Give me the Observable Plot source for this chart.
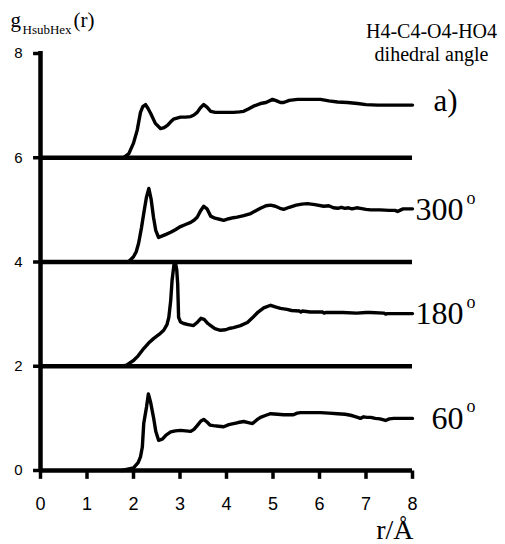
<!DOCTYPE html>
<html>
<head>
<meta charset="utf-8">
<script src="https://cdn.jsdelivr.net/npm/d3@7"></script>
<script src="https://cdn.jsdelivr.net/npm/@observablehq/plot@0.6"></script>
<style>
  html, body { margin: 0; padding: 0; background: #fff; }
</style>
</head>
<body>
<div id="chart"></div>
<script>
// Radial distribution functions g(r) of the hydroxyl H around the hexose,
// one curve per H4-C4-O4-HO4 dihedral angle, stacked with vertical offsets.
// Each point is [r (Å), g(r)].
const gAll = [
  [1.78, 0], [1.9, 0.08], [2.0, 0.28], [2.08, 0.53], [2.15, 0.87], [2.2, 0.98], [2.26, 1.02],
  [2.31, 0.95], [2.37, 0.85], [2.47, 0.66], [2.58, 0.56], [2.66, 0.58], [2.73, 0.62], [2.8, 0.69],
  [2.86, 0.74], [3.01, 0.78], [3.12, 0.78], [3.23, 0.79], [3.3, 0.82], [3.37, 0.87], [3.44, 0.96],
  [3.51, 1.02], [3.58, 0.97], [3.66, 0.89], [3.76, 0.87], [3.95, 0.87], [4.15, 0.87], [4.28, 0.88],
  [4.37, 0.89], [4.48, 0.94], [4.58, 0.99], [4.73, 1.04], [4.85, 1.06], [4.99, 1.12], [5.08, 1.09],
  [5.16, 1.06], [5.23, 1.06], [5.35, 1.1], [5.53, 1.12], [5.8, 1.12], [6.02, 1.12], [6.2, 1.09],
  [6.39, 1.07], [6.6, 1.06], [6.82, 1.04], [7.0, 1.02], [7.25, 1.01], [8.0, 1.01]
];
const g300 = [
  [1.8, 0], [1.9, 0.01], [2.0, 0.1], [2.06, 0.2], [2.11, 0.36], [2.17, 0.65], [2.22, 0.93],
  [2.28, 1.25], [2.33, 1.41], [2.38, 1.2], [2.43, 0.86], [2.48, 0.6], [2.54, 0.47], [2.62, 0.5],
  [2.7, 0.53], [2.8, 0.57], [2.9, 0.62], [3.01, 0.68], [3.12, 0.72], [3.23, 0.76], [3.3, 0.8],
  [3.37, 0.86], [3.44, 0.98], [3.51, 1.07], [3.58, 1.02], [3.66, 0.88], [3.75, 0.84], [3.85, 0.82],
  [3.94, 0.8], [4.05, 0.83], [4.15, 0.85], [4.23, 0.86], [4.37, 0.89], [4.52, 0.93], [4.62, 0.98],
  [4.73, 1.03], [4.85, 1.08], [4.95, 1.09], [5.05, 1.07], [5.15, 1.03], [5.23, 1.01], [5.35, 1.05],
  [5.5, 1.09], [5.62, 1.11], [5.74, 1.12], [5.9, 1.1], [6.09, 1.07], [6.2, 1.08], [6.3, 1.04],
  [6.39, 1.03], [6.47, 1.05], [6.55, 1.03], [6.62, 1.04], [6.7, 1.02], [6.8, 1.04], [6.88, 1.03],
  [7.0, 1.01], [7.1, 1.0], [7.3, 1.0], [7.5, 0.99], [7.62, 0.99], [7.68, 0.97], [7.75, 1.0],
  [7.8, 1.02], [8.0, 1.02]
];
const g180 = [
  [1.72, 0], [1.85, 0.02], [2.0, 0.11], [2.1, 0.2], [2.22, 0.34], [2.32, 0.44], [2.43, 0.53],
  [2.55, 0.61], [2.65, 0.69], [2.72, 0.8], [2.76, 0.94], [2.8, 1.26], [2.83, 1.65], [2.87, 1.95],
  [2.9, 2.0], [2.93, 1.85], [2.95, 1.58], [2.97, 0.94], [3.01, 0.85], [3.08, 0.82], [3.18, 0.8],
  [3.29, 0.78], [3.38, 0.85], [3.45, 0.92], [3.52, 0.9], [3.6, 0.82], [3.66, 0.78], [3.75, 0.72],
  [3.87, 0.69], [3.98, 0.7], [4.08, 0.73], [4.15, 0.74], [4.3, 0.78], [4.45, 0.84], [4.58, 0.95],
  [4.68, 1.04], [4.8, 1.12], [4.95, 1.17], [5.05, 1.14], [5.16, 1.11], [5.3, 1.09], [5.4, 1.07],
  [5.57, 1.06], [5.6, 1.04], [5.63, 1.06], [5.8, 1.04], [6.07, 1.04], [6.1, 1.02], [6.13, 1.03],
  [6.5, 1.03], [6.8, 1.02], [7.0, 1.03], [7.1, 1.03], [7.38, 1.02], [7.42, 1.0], [7.46, 1.01],
  [7.7, 1.01], [8.0, 1.01]
];
const g60 = [
  [1.75, 0], [2.0, 0.05], [2.1, 0.15], [2.15, 0.26], [2.19, 0.45], [2.22, 0.9], [2.28, 1.22],
  [2.32, 1.47], [2.37, 1.3], [2.43, 1.02], [2.48, 0.75], [2.54, 0.58], [2.62, 0.6], [2.7, 0.68],
  [2.8, 0.74], [2.9, 0.76], [3.01, 0.77], [3.12, 0.76], [3.23, 0.75], [3.3, 0.79], [3.37, 0.86],
  [3.45, 0.95], [3.51, 0.98], [3.58, 0.93], [3.65, 0.87], [3.72, 0.86], [3.83, 0.85], [3.94, 0.84],
  [4.05, 0.88], [4.15, 0.9], [4.25, 0.92], [4.37, 0.94], [4.47, 0.92], [4.56, 0.9], [4.65, 0.97],
  [4.73, 1.02], [4.85, 1.06], [4.95, 1.09], [5.1, 1.08], [5.23, 1.07], [5.35, 1.07], [5.44, 1.07],
  [5.52, 1.1], [5.59, 1.11], [5.8, 1.11], [6.02, 1.11], [6.2, 1.1], [6.39, 1.09], [6.55, 1.08],
  [6.67, 1.06], [6.75, 1.04], [6.82, 1.02], [6.88, 1.0], [6.95, 1.03], [7.02, 1.02], [7.1, 1.02],
  [7.2, 1.0], [7.3, 0.99], [7.42, 0.96], [7.5, 0.99], [7.6, 1.0], [7.8, 1.0], [8.0, 1.0]
];

// Curve labels, vertical offsets (bottom to top) and axis ticks.
const curveLabels = ["60", "180", "300", "a)"];
const offsets = [0, 2, 4, 6];
const xTicks = [0, 1, 2, 3, 4, 5, 6, 7, 8];
const yTicks = [0, 2, 4, 6, 8];
const titleLines = ["H4-C4-O4-HO4", "dihedral angle"];
const yLabel = ["g", "HsubHex", "(r)"];
const xLabel = "r/Å";

const series = [g60, g180, g300, gAll];
const rows = series.flatMap((pts, i) =>
  pts.map(([r, g]) => ({curve: curveLabels[i], r, y: g + offsets[i]}))
);
const labelRows = curveLabels.map((name, i) => ({name, level: offsets[i] + 1}));
const angleRows = labelRows.slice(0, 3);
const panelRows = labelRows.slice(3);

const serif = "'Liberation Serif', 'Times New Roman', serif";
const sans = "'Liberation Sans', Arial, sans-serif";
const heavy = 4.5;
// tick length, in data units of each axis
const xTickLen = 0.16;
const yTickLen = 0.16;

const chart = Plot.plot({
  width: 505,
  height: 544,
  marginLeft: 40,
  marginRight: 93,
  marginTop: 53,
  marginBottom: 74,
  x: {domain: [0, 8]},
  y: {domain: [0, 8]},
  style: {fontFamily: sans, color: "#000", background: "#fff"},
  marks: [
    // left axis line and the baselines of the stacked curves
    Plot.link([0], {x1: d => d, x2: d => d, y1: () => 0, y2: () => 8.05, stroke: "#000", strokeWidth: heavy}),
    Plot.ruleY(offsets, {x1: 0, x2: 8, stroke: "#000", strokeWidth: heavy}),
    // outward tick marks
    Plot.link(xTicks, {x1: d => d, x2: d => d, y1: () => 0, y2: () => -xTickLen, stroke: "#000", strokeWidth: 3.5}),
    Plot.link(yTicks, {x1: () => 0, x2: () => -yTickLen, y1: d => d, y2: d => d, stroke: "#000", strokeWidth: 3.5}),
    // tick labels
    Plot.axisX({ticks: xTicks, tickSize: 0, tickPadding: 27, fontSize: 18, label: null, fontFamily: sans}),
    Plot.axisY({ticks: yTicks, tickSize: 0, tickPadding: 18, fontSize: 15, label: null, fontFamily: sans}),
    // the curves
    Plot.line(rows, {x: "r", y: "y", z: "curve", stroke: "#000", strokeWidth: 3.4, strokeLinejoin: "round", strokeLinecap: "round"}),

    // angle labels with superscript degree mark
    Plot.text(angleRows, {x: () => 8, y: "level", text: "name", textAnchor: "end", lineAnchor: "middle",
      dx: 51, dy: 0, fontSize: 32, fontFamily: serif}),
    Plot.text(angleRows, {x: () => 8, y: "level", text: () => "o", textAnchor: "start", lineAnchor: "middle",
      dx: 54, dy: -12, fontSize: 18, fontFamily: serif}),
    Plot.text(panelRows, {x: () => 8, y: "level", text: "name", textAnchor: "start", lineAnchor: "middle",
      dx: 21, dy: -5, fontSize: 31, fontFamily: serif}),

    // title block, upper right
    Plot.text([titleLines[0]], {frameAnchor: "top-right", textAnchor: "middle", lineAnchor: "bottom",
      dx: 19, dy: -16, fontSize: 20, fontFamily: serif}),
    Plot.text([titleLines[1]], {frameAnchor: "top-right", textAnchor: "middle", lineAnchor: "bottom",
      dx: 19, dy: 7, fontSize: 20, fontFamily: serif}),

    // y label g_HsubHex(r)
    Plot.text([yLabel[0]], {frameAnchor: "top-left", textAnchor: "start", lineAnchor: "bottom",
      dx: -30, dy: -27, fontSize: 21, fontFamily: serif}),
    Plot.text([yLabel[1]], {frameAnchor: "top-left", textAnchor: "start", lineAnchor: "bottom",
      dx: -18, dy: -20, fontSize: 13, fontFamily: serif}),
    Plot.text([yLabel[2]], {frameAnchor: "top-left", textAnchor: "start", lineAnchor: "bottom",
      dx: 33, dy: -27, fontSize: 21, fontFamily: serif}),

    // x label
    Plot.text([xLabel], {frameAnchor: "bottom-right", textAnchor: "end", lineAnchor: "bottom",
      dx: 1, dy: 68, fontSize: 28, fontFamily: serif})
  ]
});

document.getElementById("chart").appendChild(chart);
</script>
</body>
</html>
